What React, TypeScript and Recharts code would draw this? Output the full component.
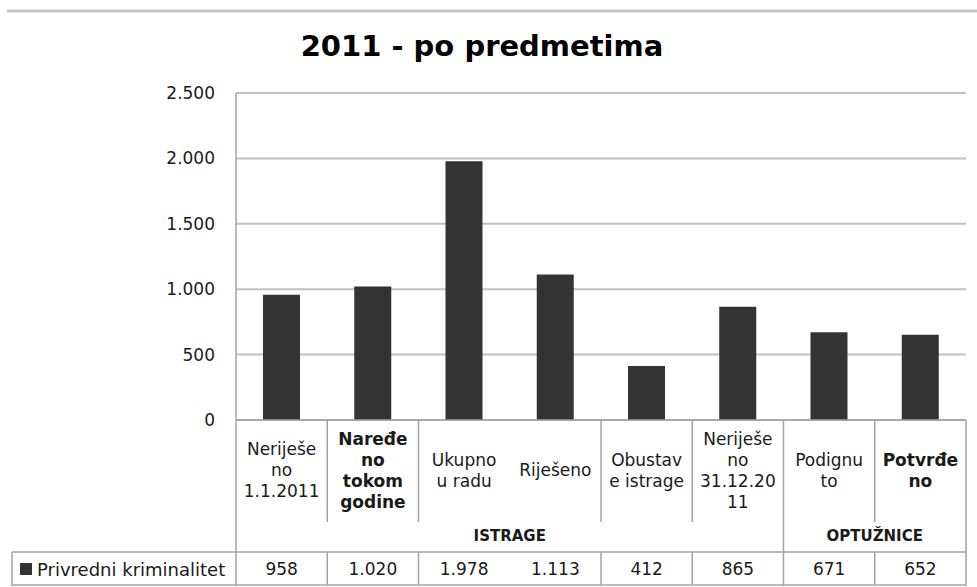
import React from "react";
import { BarChart, Bar, XAxis, YAxis, CartesianGrid } from "recharts";

const categories = [
  "Neriješe\nno\n1.1.2011",
  "Naređe\nno\ntokom\ngodine",
  "Ukupno\nu radu",
  "Riješeno",
  "Obustav\ne istrage",
  "Neriješe\nno\n31.12.20\n11",
  "Podignu\nto",
  "Potvrđe\nno",
];
const values = [958, 1020, 1978, 1113, 412, 865, 671, 652];
const boldCategories = [1, 7];
const yTicks = [0, 500, 1000, 1500, 2000, 2500];
const groups = [
  { label: "ISTRAGE", from: 0, to: 5 },
  { label: "OPTUŽNICE", from: 6, to: 7 },
];
// right-edge divider style after each category: short (not across group row), full, none
const dividers = ["short", "short", "none", "short", "short", "full", "short", "full"];
const seriesName = "Privredni kriminalitet";
const title = "2011 - po predmetima";

const data = categories.map((c, i) => ({ name: c, value: values[i], idx: i }));

const FONT = "'DejaVu Sans', Verdana, sans-serif";
const LINE = "#a3a3a3";

const fmt = (v: number) => String(v).replace(/\B(?=(\d{3})+(?!\d))/g, ".");

const CategoryTick = (props: any) => {
  const { x, y, payload, index } = props;
  const i: number = typeof index === "number" ? index : payload?.index ?? 0;
  const half: number = payload?.offset && payload.offset > 0 ? payload.offset : 45.6;
  const lines = String(categories[i]).split("\n");
  const lh = 21;
  const center = y + 50;
  const startY = center - ((lines.length - 1) * lh) / 2;
  const bold = boldCategories.includes(i);
  const left = x - half;
  const right = x + half;
  const totalW = half * 2 * categories.length;
  const els: React.ReactNode[] = [];

  lines.forEach((ln, k) => {
    els.push(
      <text
        key={"l" + k}
        x={x}
        y={startY + k * lh}
        textAnchor="middle"
        dominantBaseline="central"
        fontFamily={FONT}
        fontSize={17}
        fontWeight={bold ? "bold" : "normal"}
        fill="#1a1a1a"
      >
        {ln}
      </text>
    );
  });

  els.push(
    <text key="v" x={x} y={y + 149} textAnchor="middle" dominantBaseline="central" fontFamily={FONT} fontSize={17} fill="#1a1a1a">
      {fmt(values[i])}
    </text>
  );

  const d = dividers[i];
  if (d === "short") {
    els.push(<line key="ds1" x1={right} x2={right} y1={y} y2={y + 102} stroke={LINE} strokeWidth={1.5} />);
    els.push(<line key="ds2" x1={right} x2={right} y1={y + 132} y2={y + 165} stroke={LINE} strokeWidth={1.5} />);
  } else if (d === "full") {
    els.push(<line key="df" x1={right} x2={right} y1={y} y2={y + 166} stroke={LINE} strokeWidth={1.5} />);
  }

  groups.forEach((g, gi) => {
    if (g.from === i) {
      const gx = left + ((g.to - g.from + 1) * half * 2) / 2;
      els.push(
        <text key={"g" + gi} x={gx} y={y + 116} textAnchor="middle" dominantBaseline="central" fontFamily={FONT} fontSize={15} fontWeight="bold" fill="#1a1a1a">
          {g.label}
        </text>
      );
    }
  });

  if (i === 0) {
    const tableLeft = 12;
    els.push(<line key="lb" x1={left} x2={left} y1={y} y2={y + 166} stroke={LINE} strokeWidth={1.5} />);
    els.push(<line key="h1" x1={tableLeft} x2={left + totalW} y1={y + 132} y2={y + 132} stroke={LINE} strokeWidth={1.5} />);
    els.push(<line key="h2" x1={tableLeft} x2={left + totalW} y1={y + 165} y2={y + 165} stroke={LINE} strokeWidth={1.5} />);
    els.push(<line key="lc" x1={tableLeft} x2={tableLeft} y1={y + 132} y2={y + 166} stroke={LINE} strokeWidth={1.5} />);
    els.push(<rect key="sq" x={20} y={y + 143} width={12} height={12} fill="#333333" />);
    els.push(
      <text key="sn" x={37} y={y + 149} textAnchor="start" dominantBaseline="central" fontFamily={FONT} fontSize={18} fill="#1a1a1a">
        {seriesName}
      </text>
    );
  }

  return <g>{els}</g>;
};

export default function App() {
  return (
    <div style={{ position: "absolute", left: 0, top: 0, width: 977, height: 587, background: "#fff" }}>
      <svg width={977} height={587} style={{ position: "absolute", left: 0, top: 0 }}>
        <line x1={7} x2={977} y1={11} y2={11} stroke="#c4c4c4" strokeWidth={3} />
        <text x={482} y={56} textAnchor="middle" fontFamily={FONT} fontSize={29} fontWeight="bold" fill="#000">
          {title}
        </text>
      </svg>
      <div style={{ position: "absolute", left: 0, top: 0 }}>
        <BarChart width={977} height={587} data={data} margin={{ top: 93, right: 11, bottom: 0, left: 0 }}>
          <CartesianGrid vertical={false} stroke="#c0c0c0" strokeWidth={2} />
          <XAxis
            dataKey="name"
            interval={0}
            height={167}
            tickLine={false}
            tickSize={0}
            tickMargin={0}
            axisLine={{ stroke: LINE, strokeWidth: 1.5 }}
            tick={(p: any) => <CategoryTick {...p} />}
          />
          <YAxis
            domain={[0, 2500]}
            ticks={yTicks}
            width={236}
            tickLine={false}
            tickSize={0}
            tickMargin={21}
            axisLine={{ stroke: LINE, strokeWidth: 1.5 }}
            tickFormatter={fmt}
            tick={{ fontFamily: FONT, fontSize: 17, fill: "#1a1a1a" }}
          />
          <Bar dataKey="value" fill="#333333" barSize={37} isAnimationActive={false} />
        </BarChart>
      </div>
    </div>
  );
}
